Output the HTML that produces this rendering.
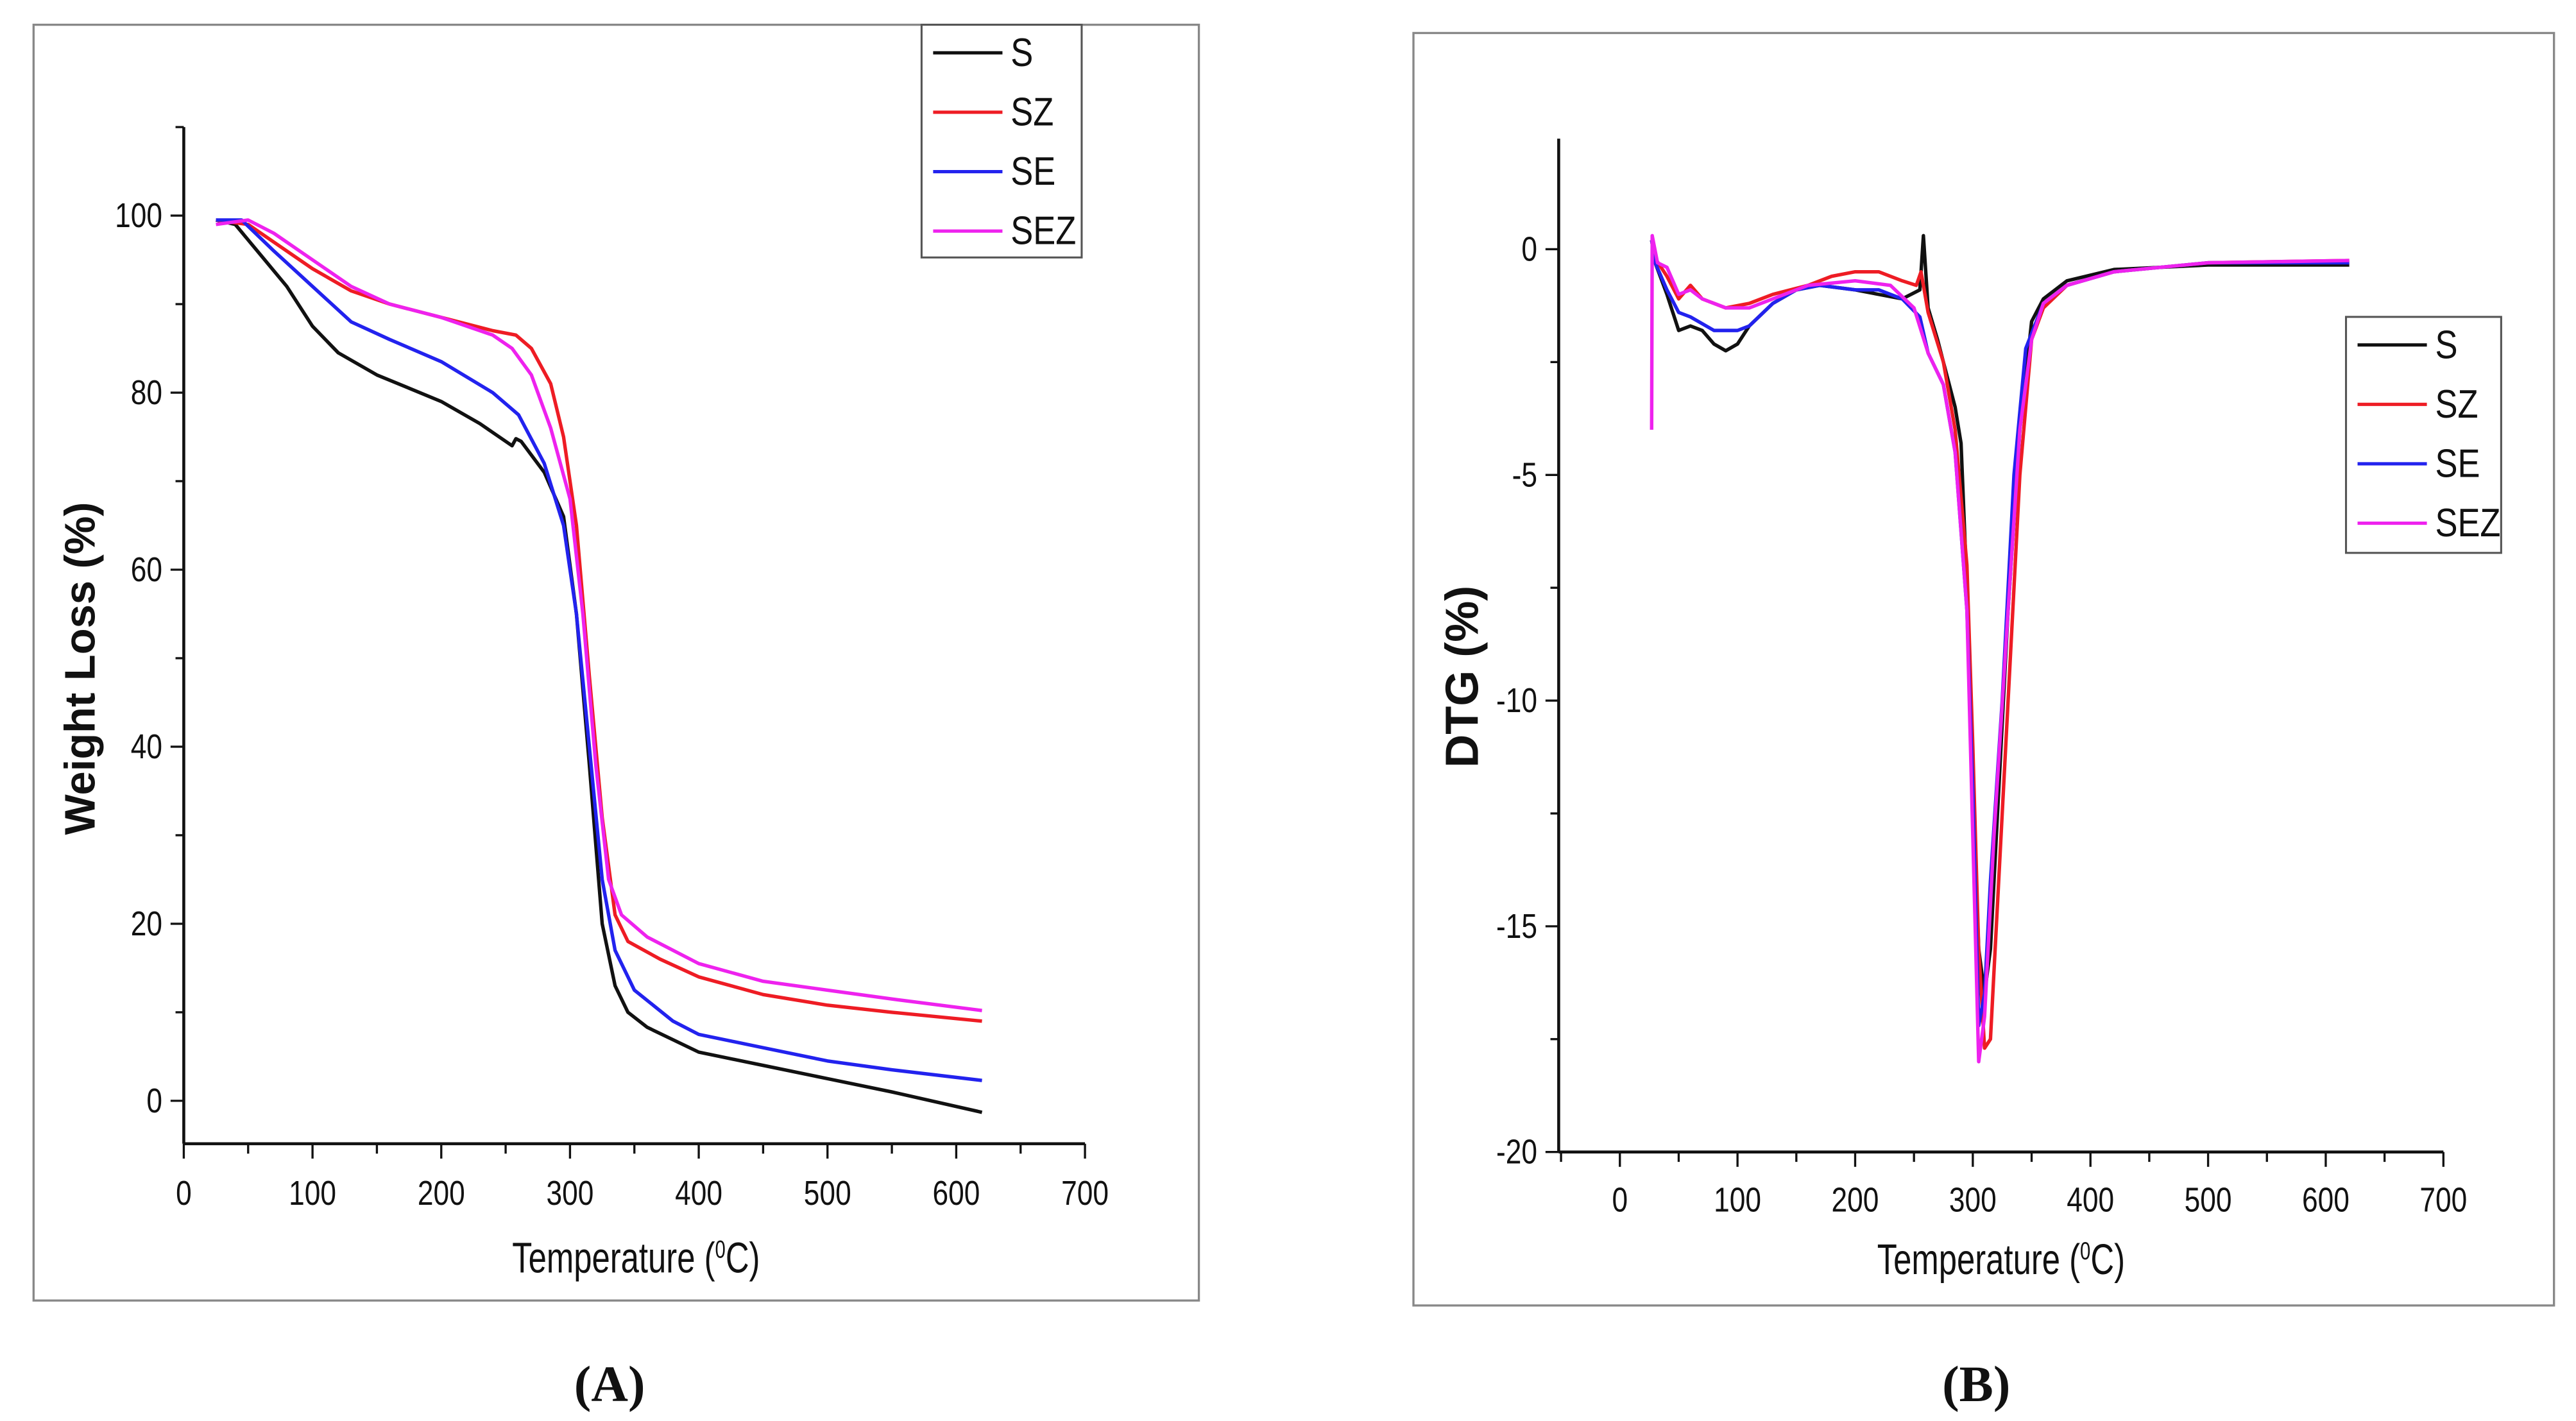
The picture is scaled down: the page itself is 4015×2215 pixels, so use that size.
<!DOCTYPE html>
<html><head><meta charset="utf-8">
<style>
html,body{margin:0;padding:0;background:#fff;}
svg{display:block;}
text{font-family:"Liberation Sans",sans-serif;fill:#111;}
</style></head>
<body>
<svg id="fig" width="4015" height="2215" viewBox="0 0 1560 861" xmlns="http://www.w3.org/2000/svg">
  <rect x="0" y="0" width="1560" height="861" fill="#fff"/>
  <rect x="20" y="15" width="706" height="773" fill="none" stroke="#888" stroke-width="1.3"/>
  <rect x="856" y="20" width="691" height="771" fill="none" stroke="#888" stroke-width="1.3"/>
  <g id="chartA"></g>
  <g id="chartB"></g>
  <text x="369" y="849" text-anchor="middle" style="font-family:'Liberation Serif',serif" font-size="31" font-weight="bold">(A)</text>
  <text x="1197" y="849" text-anchor="middle" style="font-family:'Liberation Serif',serif" font-size="31" font-weight="bold">(B)</text>
</svg>
<script>
// ---- Panel A data (temperature °C, weight %) ----
const tgaTemps_S   = [25,40,60,80,100,120,150,200,230,255,258,262,280,295,305,315,325,335,345,360,400,450,500,550,620];
const tgaVals_S    = [99.5,99,95.5,92,87.5,84.5,82,79,76.5,74,74.8,74.5,71,66,55,38,20,13,10,8.3,5.5,4,2.5,1,-1.3];
const tgaTemps_SZ  = [25,50,80,100,130,160,200,240,258,270,285,295,305,315,325,335,345,370,400,450,500,550,620];
const tgaVals_SZ   = [99.5,99,96,94,91.5,90,88.5,87,86.5,85,81,75,65,48,32,21,18,16,14,12,10.8,10,9];
const tgaTemps_SE  = [25,45,70,100,130,160,200,240,260,280,295,305,315,325,335,350,380,400,450,500,550,620];
const tgaVals_SE   = [99.5,99.5,96,92,88,86,83.5,80,77.5,72,65,55,40,25,17,12.5,9,7.5,6,4.5,3.5,2.3];
const tgaTemps_SEZ = [25,50,70,100,130,160,200,240,255,270,285,300,310,320,330,340,360,400,450,500,550,620];
const tgaVals_SEZ  = [99,99.5,98,95,92,90,88.5,86.5,85,82,76,68,55,38,25,21,18.5,15.5,13.5,12.5,11.5,10.2];
const tgaXTicks = [0,100,200,300,400,500,600,700];
const tgaYTicks = [0,20,40,60,80,100];

// ---- Panel B data (temperature °C, DTG %) ----
const dtgTemps_S   = [27,30,40,50,60,70,80,90,100,110,130,150,170,200,220,240,255,258,262,270,285,290,295,300,305,310,315,320,330,340,350,360,380,420,500,620];
const dtgVals_S    = [0.2,-0.3,-1,-1.8,-1.7,-1.8,-2.1,-2.25,-2.1,-1.7,-1.2,-0.9,-0.8,-0.9,-1,-1.1,-0.9,0.3,-1.3,-2,-3.5,-4.3,-7.5,-12,-15.5,-16.5,-15.5,-13,-8,-4,-1.6,-1.1,-0.7,-0.45,-0.35,-0.35];
const dtgTemps_SZ  = [27,30,40,50,60,70,90,110,130,160,180,200,220,240,252,256,262,275,285,295,300,305,310,315,320,330,340,350,360,380,420,500,620];
const dtgVals_SZ   = [0.2,-0.2,-0.6,-1.1,-0.8,-1.1,-1.3,-1.2,-1.0,-0.8,-0.6,-0.5,-0.5,-0.7,-0.8,-0.5,-1.4,-2.5,-4,-7,-11,-15.5,-17.7,-17.5,-15,-10,-5,-2,-1.3,-0.8,-0.5,-0.3,-0.25];
const dtgTemps_SE  = [27,30,40,50,60,80,100,110,130,150,170,200,220,240,255,262,275,285,295,300,305,310,315,325,335,345,360,380,420,500,620];
const dtgVals_SE   = [0.2,-0.3,-0.9,-1.4,-1.5,-1.8,-1.8,-1.7,-1.2,-0.9,-0.8,-0.9,-0.9,-1.1,-1.5,-2.3,-3,-4.5,-8,-12,-17.2,-16.5,-14,-10,-5,-2.2,-1.2,-0.8,-0.5,-0.3,-0.3];
const dtgTemps_SEZ = [27,27.5,32,40,50,60,70,90,110,130,160,200,230,250,262,275,285,295,300,305,310,318,330,340,350,360,380,420,500,620];
const dtgVals_SEZ  = [-4,0.3,-0.3,-0.4,-1.0,-0.9,-1.1,-1.3,-1.3,-1.1,-0.8,-0.7,-0.8,-1.3,-2.3,-3,-4.5,-8,-13,-18,-17,-13,-8,-4,-2,-1.2,-0.8,-0.5,-0.3,-0.25];
const dtgXTicks = [0,100,200,300,400,500,600,700];
const dtgYTicks = [0,-5,-10,-15,-20];

const NS = "http://www.w3.org/2000/svg";
function mk(parent, tag, attrs){
  const e = document.createElementNS(NS, tag);
  for (const k in attrs) e.setAttribute(k, attrs[k]);
  parent.appendChild(e);
  return e;
}
const COLORS = {S:"#111111", SZ:"#ee1c24", SE:"#2222ee", SEZ:"#ee22ee"};

function buildChart(g, cfg){
  const sx = v => cfg.x0 + (v - cfg.xmin) / (cfg.xmax - cfg.xmin) * (cfg.x1 - cfg.x0);
  const sy = v => cfg.y0 - (v - cfg.ymin) / (cfg.ymax - cfg.ymin) * (cfg.y0 - cfg.y1);
  const ya = mk(g, "line", {x1:cfg.x0, y1:cfg.y1, x2:cfg.x0, y2:cfg.y0, stroke:"#111", "stroke-width":1.8});
  
  
  const xa = mk(g, "line", {x1:cfg.x0, y1:cfg.y0, x2:cfg.x1, y2:cfg.y0, stroke:"#111", "stroke-width":1.8});
  
  
  for (let v = cfg.xTicks[0] - 50; v <= cfg.xmax; v += 50){
    if (v < cfg.xmin) continue;
    const major = (v % 100 === 0);
    const t = mk(g, "line", {x1:sx(v), y1:cfg.y0, x2:sx(v), y2:cfg.y0 + (major?9:6), stroke:"#111", "stroke-width":1.3});
    
    
  }
  cfg.xTicks.forEach(v => {
    const tx = mk(g, "text", {transform:`translate(${sx(v)},${cfg.y0+cfg.xto}) scale(0.82,1)`, "text-anchor":"middle", "font-size":21});
    tx.textContent = v;
    
    
  });
  for (let v = cfg.yMinorStart; v <= cfg.ymax; v += cfg.yMinor){
    const major = cfg.yTicks.some(t => Math.abs(t - v) < 1e-9);
    const t = mk(g, "line", {x1:cfg.x0 - (major?8:5), y1:sy(v), x2:cfg.x0, y2:sy(v), stroke:"#111", "stroke-width":1.3});
    
    
  }
  cfg.yTicks.forEach(v => {
    const tx = mk(g, "text", {transform:`translate(${cfg.x0-13},${sy(v)+7}) scale(0.82,1)`, "text-anchor":"end", "font-size":21});
    tx.textContent = v;
    
    
  });
  cfg.series.forEach(s => {
    const d = s.t.map((t,i) => (i ? "L" : "M") + sx(t).toFixed(2) + "," + sy(s.v[i]).toFixed(2)).join(" ");
    const p = mk(g, "path", {d:d, fill:"none", stroke:COLORS[s.name], "stroke-width":2.1, "stroke-linejoin":"round"});
    
    
  });
  const xt = mk(g, "text", {transform:`translate(${cfg.xlx},${cfg.xly}) scale(0.76,1)`, "text-anchor":"middle", "font-size":26});
  xt.innerHTML = 'Temperature (<tspan dy="-9" font-size="15">0</tspan><tspan dy="9">C)</tspan>';
  
  
  const yt = mk(g, "text", {transform:`translate(${cfg.ylx},${cfg.yly}) rotate(-90)`, "text-anchor":"middle", "font-size":cfg.ylfs, "font-weight":"bold"});
  yt.textContent = cfg.ylabel;
  
  
  const lg = mk(g, "g", {});
  
  
  const bx = mk(lg, "rect", {x:cfg.lx, y:cfg.ly, width:cfg.lw, height:cfg.lh, fill:"#fff", stroke:"#555", "stroke-width":1.2});
  
  
  cfg.series.forEach((s,i) => {
    const yy = cfg.ly + 17 + i*36;
    const ln = mk(lg, "line", {x1:cfg.lx+7, y1:yy, x2:cfg.lx+49, y2:yy, stroke:COLORS[s.name], "stroke-width":2});
    
    
    const tx = mk(lg, "text", {transform:`translate(${cfg.lx+54},${yy+8}) scale(0.85,1)`, "font-size":24});
    tx.textContent = s.name;
    
    
  });
}

buildChart(document.getElementById('chartA'), {
  id:'chart-a', x0:111, x1:657, y0:693, y1:77, xmin:0, xmax:700, ymin:-4.85, ymax:110,
  xTicks:tgaXTicks, yTicks:tgaYTicks, yMinor:10, yMinorStart:0, xto:37,
  xlx:385, xly:771, ylx:57, yly:405, ylabel:'Weight Loss (%)', ylfs:26,
  lx:558, ly:15, lw:97, lh:141,
  series:[{name:'S',t:tgaTemps_S,v:tgaVals_S},{name:'SZ',t:tgaTemps_SZ,v:tgaVals_SZ},{name:'SE',t:tgaTemps_SE,v:tgaVals_SE},{name:'SEZ',t:tgaTemps_SEZ,v:tgaVals_SEZ}]
});
buildChart(document.getElementById('chartB'), {
  id:'chart-b', x0:944, x1:1480, y0:698, y1:84, xmin:-52, xmax:700, ymin:-20, ymax:2.45,
  xTicks:dtgXTicks, yTicks:dtgYTicks, yMinor:2.5, yMinorStart:-20, xto:36,
  xlx:1212, xly:772, ylx:895, yly:410, ylabel:'DTG (%)', ylfs:28,
  lx:1421, ly:192, lw:94, lh:143,
  series:[{name:'S',t:dtgTemps_S,v:dtgVals_S},{name:'SZ',t:dtgTemps_SZ,v:dtgVals_SZ},{name:'SE',t:dtgTemps_SE,v:dtgVals_SE},{name:'SEZ',t:dtgTemps_SEZ,v:dtgVals_SEZ}]
});
</script>
</body></html>
